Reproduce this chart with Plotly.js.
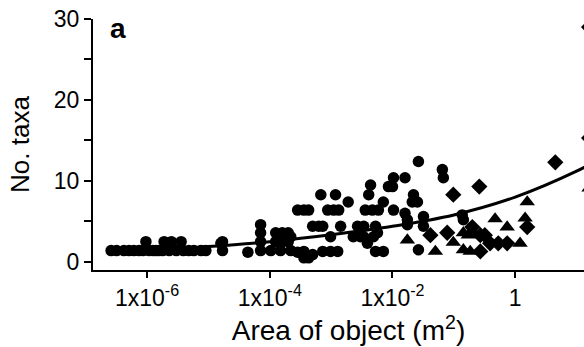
<!DOCTYPE html>
<html><head><meta charset="utf-8">
<script src="https://cdn.plot.ly/plotly-3.0.1.min.js"></script>
<style>html,body{margin:0;padding:0;overflow:hidden;background:#fff;}#c{width:604px;height:347px;}</style>
</head><body><div id="c"></div>
<script>
// circles (area m^2, no. taxa)
const circX = [2.6e-7,3.2e-7,4.2e-7,5.1e-7,6.1e-7,7.4e-7,8.6e-7,1.08e-6,1.25e-6,1.4e-6,1.57e-6,1.8e-6,2.3e-6,3.0e-6,3.9e-6,4.8e-6,5.8e-6,7.6e-6,9.1e-6,1.7e-5,
 9.6e-7,1.9e-6,2.5e-6,3.6e-6,1.7e-5,1.6e-5,4.4e-5,
 7.1e-5,7.1e-5,7.1e-5,7.1e-5,
 1.25e-4,1.25e-4,1.6e-4,1.6e-4,2.0e-4,2.0e-4,1.04e-4,1.5e-4,2.2e-4,2.2e-4,1.8e-4,
 2.85e-4,3.6e-4,3.6e-4,4.3e-4,5.0e-4,7.3e-4,9.8e-4,1.28e-3,5.3e-3,7.1e-3,2.65e-2,
 9.8e-4,2.3e-3,3.0e-3,3.4e-3,4.9e-3,5.7e-3,
 5.0e-4,6.3e-4,7.3e-4,1.43e-3,2.7e-3,3.4e-3,5.3e-3,3.2e-2,
 2.85e-4,3.6e-4,4.3e-4,8.8e-4,1.1e-3,1.33e-3,3.6e-3,4.7e-3,5.9e-3,1.04e-2,
 1.9e-3,7.1e-3,2.1e-2,2.55e-2,
 6.8e-4,1.18e-3,4.1e-3,2.2e-2,
 8.6e-3,1.0e-2,4.4e-3,
 1.04e-2,1.6e-2,2.65e-2,6.5e-2,6.75e-2,
 1.6e-2,1.75e-2,1.75e-2,0.137,0.143,3.2e-2,3.9e-3];
const circY = [1.4,1.4,1.4,1.4,1.4,1.4,1.4,1.4,1.4,1.4,1.4,1.4,1.4,1.4,1.4,1.4,1.4,1.4,1.4,1.4,
 2.5,2.5,2.5,2.5,2.5,2.3,1.2,
 4.6,3.6,2.5,1.4,
 3.6,2.5,3.6,2.5,3.6,2.5,1.4,1.4,1.4,3.1,3.1,
 1.2,0.5,1.3,0.5,0.9,1.3,1.3,1.3,1.3,1.3,1.5,
 3.1,3.1,3.1,3.1,3.1,3.6,
 4.4,4.4,4.4,4.4,4.4,4.4,4.4,4.4,
 6.4,6.4,6.4,6.4,6.4,6.4,6.4,6.4,6.4,6.4,
 7.4,7.4,7.4,7.4,
 8.3,8.3,8.3,8.3,
 9.3,9.3,9.5,
 10.4,10.4,12.4,11.4,10.4,
 6.0,5.2,4.6,5.8,5.2,5.6,2.3];
// diamonds
const diaX = [4.15e-2,7.8e-2,9.8e-2,0.26,4.5,16,16,0.2,0.27,0.32,0.27,0.39,0.53,0.74,1.57];
const diaY = [3.3,3.6,8.3,9.3,12.3,29,15.3,4.3,3.3,3.3,1.3,2.3,2.3,2.3,4.3];
// triangles
const triX = [1.75e-2,5.0e-2,9.8e-2,0.143,0.185,0.143,0.172,0.2,0.47,0.74,1.45,1.57,1.2,16];
const triY = [2.7,1.3,2.4,1.5,1.3,3.6,3.3,3.7,5.3,4.3,5.4,7.4,2.3,9.1];
// fitted curve
const fitX = [2.2e-7,1e-6,1e-5,1e-4,1e-3,1e-2,0.1,1,10,28];
const fitY = [1.2,1.45,1.9,2.5,3.35,4.4,5.8,8.0,11.2,13.0];
// ticks
const xTickVals = [1e-6,1e-4,1e-2,1];
const xTickText = ['1x10<sup>-6</sup>','1x10<sup>-4</sup>','1x10<sup>-2</sup>','1'];
const yTickVals = [0,10,20,30];
const yTickText = ['0','10','20','30'];
const yMinorVals = [5,15,25];

const FONT = 'Liberation Sans, Arial, sans-serif';
const traces = [
 {x: fitX, y: fitY, type:'scatter', mode:'lines', line:{color:'#000', width:3, shape:'spline'}, hoverinfo:'skip'},
 {x: circX, y: circY, type:'scatter', mode:'markers', marker:{symbol:'circle', size:11.5, color:'#000'}},
 {x: diaX, y: diaY, type:'scatter', mode:'markers', marker:{symbol:'diamond', size:12.5, color:'#000'}},
 {x: triX, y: triY, type:'scatter', mode:'markers', marker:{symbol:'triangle-up', size:13.5, color:'#000'}}
];
const layout = {
 width: 604, height: 347,
 margin: {l: 93, r: 0, t: 18.5, b: 77},
 paper_bgcolor: '#fff', plot_bgcolor: '#fff',
 showlegend: false,
 font: {family: FONT, color: '#000'},
 xaxis: {type:'log', range:[-6.88, 1.447], tickmode:'array', tickvals: xTickVals, ticktext: xTickText,
   ticks:'outside', ticklen:6, tickwidth:2, tickcolor:'#000', showline:true, linecolor:'#000', linewidth:2,
   showgrid:false, zeroline:false, tickfont:{size:23, family:FONT, color:'#000'},
   title:{text:'Area of object (m<sup>2</sup>)', font:{size:28, family:FONT, color:'#000'}, standoff:4}},
 yaxis: {range:[-1, 30], tickmode:'array', tickvals: yTickVals, ticktext: yTickText,
   ticks:'outside', ticklen:7, tickwidth:2, tickcolor:'#000', showline:true, linecolor:'#000', linewidth:2,
   showgrid:false, zeroline:false, tickfont:{size:23, family:FONT, color:'#000'},
   minor:{tickmode:'array', tickvals: yMinorVals, ticks:'outside', ticklen:7, tickwidth:2, tickcolor:'#000', showgrid:false},
   title:{text:'No. taxa', font:{size:26, family:FONT, color:'#000'}, standoff:17}},
 annotations: [{text:'<b>a</b>', xref:'paper', yref:'paper', x:0.049, y:0.962, xanchor:'center', yanchor:'middle',
   showarrow:false, font:{size:28, family:FONT, color:'#000'}}]
};
Plotly.newPlot('c', traces, layout, {staticPlot:true, displayModeBar:false});
</script></body></html>
